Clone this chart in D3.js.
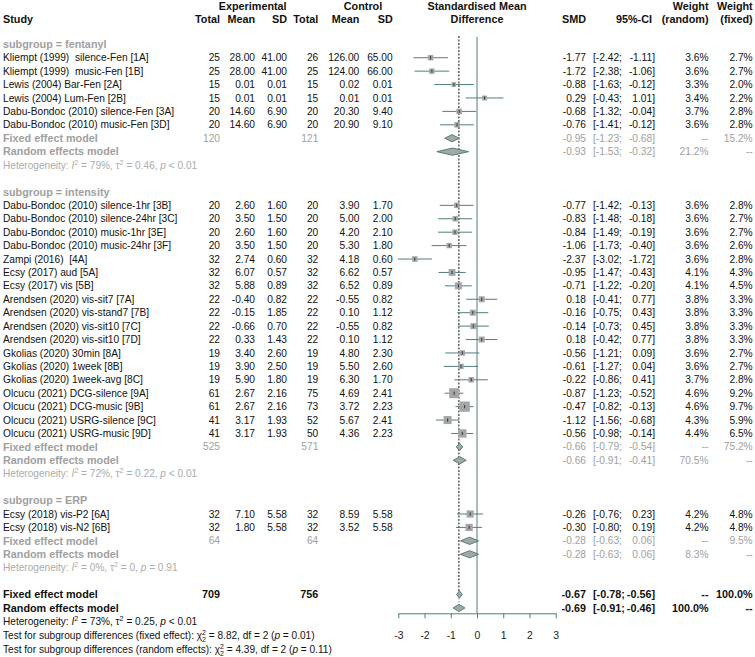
<!DOCTYPE html>
<html><head><meta charset="utf-8">
<script src="https://cdn.jsdelivr.net/npm/d3@7"></script>
<style>body{margin:0;background:#fff} svg{display:block} text{font-family:"Liberation Sans",Arial,sans-serif}</style>
</head><body><svg id="c" width="755" height="657"></svg>
<script>
// ---------------- DATA ----------------
const groups = ["fentanyl", "intensity", "ERP"];
const studies = [
  "Kliempt (1999)  silence-Fen [1A]", "Kliempt (1999)  music-Fen [1B]", "Lewis (2004) Bar-Fen [2A]",
  "Lewis (2004) Lum-Fen [2B]", "Dabu-Bondoc (2010) silence-Fen [3A]", "Dabu-Bondoc (2010) music-Fen [3D]",
  "Dabu-Bondoc (2010) silence-1hr [3B]", "Dabu-Bondoc (2010) silence-24hr [3C]", "Dabu-Bondoc (2010) music-1hr [3E]",
  "Dabu-Bondoc (2010) music-24hr [3F]", "Zampi (2016)  [4A]", "Ecsy (2017) aud [5A]", "Ecsy (2017) vis [5B]",
  "Arendsen (2020) vis-sit7 [7A]", "Arendsen (2020) vis-stand7 [7B]", "Arendsen (2020) vis-sit10 [7C]",
  "Arendsen (2020) vis-sit10 [7D]", "Gkolias (2020) 30min [8A]", "Gkolias (2020) 1week [8B]",
  "Gkolias (2020) 1week-avg [8C]", "Olcucu (2021) DCG-silence [9A]", "Olcucu (2021) DCG-music [9B]",
  "Olcucu (2021) USRG-silence [9C]", "Olcucu (2021) USRG-music [9D]",
  "Ecsy (2018) vis-P2 [6A]", "Ecsy (2018) vis-N2 [6B]"
];
const studyGroup = [0,0,0,0,0,0, 1,1,1,1,1,1,1,1,1,1,1,1,1,1,1,1,1,1, 2,2];
const expTotal = [25,25,15,15,20,20, 20,20,20,20,32,32,32,22,22,22,22,19,19,19,61,61,41,41, 32,32];
const expMean  = [28,28,0.01,0.01,14.6,14.6, 2.6,3.5,2.6,3.5,2.74,6.07,5.88,-0.40,-0.15,-0.66,0.33,3.4,3.9,5.9,2.67,2.67,3.17,3.17, 7.10,1.80];
const expSD    = [41,41,0.01,0.01,6.9,6.9, 1.6,1.5,1.6,1.5,0.60,0.57,0.89,0.82,1.85,0.70,1.43,2.6,2.5,1.8,2.16,2.16,1.93,1.93, 5.58,5.58];
const ctlTotal = [26,25,15,15,20,20, 20,20,20,20,32,32,32,22,22,22,22,19,19,19,75,73,52,50, 32,32];
const ctlMean  = [126,124,0.02,0.01,20.3,20.9, 3.9,5.0,4.2,5.3,4.18,6.62,6.52,-0.55,0.10,-0.55,0.10,4.8,5.5,6.3,4.69,3.72,5.67,4.36, 8.59,3.52];
const ctlSD    = [65,66,0.01,0.01,9.4,9.1, 1.7,2.0,2.1,1.8,0.60,0.57,0.89,0.82,1.12,0.82,1.12,2.3,2.6,1.7,2.41,2.23,2.41,2.23, 5.58,5.58];
const smd      = [-1.77,-1.72,-0.88,0.29,-0.68,-0.76, -0.77,-0.83,-0.84,-1.06,-2.37,-0.95,-0.71,0.18,-0.16,-0.14,0.18,-0.56,-0.61,-0.22,-0.87,-0.47,-1.12,-0.56, -0.26,-0.30];
const ciLow    = [-2.42,-2.38,-1.63,-0.43,-1.32,-1.41, -1.42,-1.48,-1.49,-1.73,-3.02,-1.47,-1.22,-0.41,-0.75,-0.73,-0.42,-1.21,-1.27,-0.86,-1.23,-0.82,-1.56,-0.98, -0.76,-0.80];
const ciHigh   = [-1.11,-1.06,-0.12,1.01,-0.04,-0.12, -0.13,-0.18,-0.19,-0.40,-1.72,-0.43,-0.20,0.77,0.43,0.45,0.77,0.09,0.04,0.41,-0.52,-0.13,-0.68,-0.14, 0.23,0.19];
const wRandom  = [3.6,3.6,3.3,3.4,3.7,3.6, 3.6,3.6,3.6,3.6,3.6,4.1,4.1,3.8,3.8,3.8,3.8,3.6,3.6,3.7,4.6,4.6,4.3,4.4, 4.2,4.2];
const wFixed   = [2.7,2.7,2.0,2.2,2.8,2.8, 2.8,2.7,2.7,2.6,2.8,4.3,4.5,3.3,3.3,3.3,3.3,2.7,2.7,2.8,9.2,9.7,5.9,6.5, 4.8,4.8];

// subgroup summaries
const grpExpTotal = [120, 525, 64];
const grpCtlTotal = [121, 571, 64];
const grpFixed    = [-0.95, -0.66, -0.28];
const grpFixedLo  = [-1.23, -0.79, -0.63];
const grpFixedHi  = [-0.68, -0.54, 0.06];
const grpFixedW   = [15.2, 75.2, 9.5];
const grpRandom   = [-0.93, -0.66, -0.28];
const grpRandomLo = [-1.53, -0.91, -0.63];
const grpRandomHi = [-0.32, -0.41, 0.06];
const grpRandomW  = [21.2, 70.5, 8.3];
const grpI2   = ["79%", "72%", "0%"];
const grpTau2 = ["0.46", "0.22", "0"];
const grpP    = ["< 0.01", "< 0.01", "= 0.91"];

// overall
const allExpTotal = 709, allCtlTotal = 756;
const allFixed = [-0.67, -0.78, -0.56];
const allRandom = [-0.69, -0.91, -0.46];
const allI2 = "73%", allTau2 = "0.25", allP = "< 0.01";
const testFixed = ["8.82", "2", "0.01"];
const testRandom = ["4.39", "2", "0.11"];
const axisTicks = [-3, -2, -1, 0, 1, 2, 3];

// ---------------- LAYOUT ----------------
const svg = d3.select("#c");
const f2 = d3.format(".2f");
const fmt = v => f2(v).replace("−", "-");
const pct = v => d3.format(".1f")(v) + "%";
const GREY = "#a0a0a0", HGREY = "#ababab", LINE = "#4f7f7c", BOX = "#a6a6a6";
const FS = 10.2, FSB = 10.8, FSH = 10.1;

const x = d3.scaleLinear().domain([-3, 3]).range([398.3, 555.7]);
const yRow = d3.scaleLinear().domain([0, 1]).range([44.3, 44.3 + 13.42]);

const col = {expT:220, expM:255, expS:287, ctlT:318.3, ctlM:359.3, ctlS:392.7, smd:586, ciL:593, ciR:655, wR:708.5, wF:752.7};

function txt(xp, yp, s, o = {}) {
  return svg.append("text").attr("x", xp).attr("y", yp).attr("dy", "0.35em")
    .attr("text-anchor", o.anchor || "start")
    .attr("font-size", o.size || (o.bold ? FSB : FS))
    .attr("font-weight", o.bold ? "bold" : "normal")
    .attr("fill", o.fill || "#111")
    .attr("xml:space", "preserve")
    .text(s);
}

// headers
txt(3, 19.3, "Study", {bold:true});
txt(252.7, 6, "Experimental", {bold:true, anchor:"middle"});
txt(363, 6, "Control", {bold:true, anchor:"middle"});
[["Total",col.expT],["Mean",col.expM],["SD",col.expS],["Total",col.ctlT],["Mean",col.ctlM],["SD",col.ctlS],["SMD",col.smd],["95%-CI",652]]
  .forEach(([s,xp]) => txt(xp, 19.3, s, {bold:true, anchor:"end"}));
txt(477, 6, "Standardised Mean", {bold:true, anchor:"middle"});
txt(477, 19.3, "Difference", {bold:true, anchor:"middle"});
txt(col.wR, 6, "Weight", {bold:true, anchor:"end"});
txt(col.wR, 19.3, "(random)", {bold:true, anchor:"end"});
txt(col.wF, 6, "Weight", {bold:true, anchor:"end"});
txt(col.wF, 19.3, "(fixed)", {bold:true, anchor:"end"});

function ciText(yp, est, lo, hi, o) {
  txt(col.smd, yp, fmt(est), Object.assign({anchor:"end"}, o));
  txt(col.ciL, yp, "[" + fmt(lo) + ";", Object.assign({anchor:"start"}, o));
  txt(col.ciR, yp, fmt(hi) + "]", Object.assign({anchor:"end"}, o));
}

function hetText(yp, i2, tau2, p, fill) {
  const t = svg.append("text").attr("x", 3).attr("y", yp).attr("dy", "0.35em")
    .attr("font-size", FSH).attr("fill", fill).attr("xml:space", "preserve");
  t.append("tspan").text("Heterogeneity: ");
  t.append("tspan").attr("font-style", "italic").text("I");
  t.append("tspan").attr("font-size", 7.2).attr("dy", -4).text("2");
  t.append("tspan").attr("dy", 4).text(" = " + i2 + ", τ");
  t.append("tspan").attr("font-size", 7.2).attr("dy", -4).text("2");
  t.append("tspan").attr("dy", 4).text(" = " + tau2 + ", ");
  t.append("tspan").attr("font-style", "italic").text("p");
  t.append("tspan").text(" " + p);
}

function diamond(yp, est, lo, hi) {
  const h = 3.6;
  svg.append("path")
    .attr("d", `M${x(lo)},${yp}L${x(est)},${yp-h}L${x(hi)},${yp}L${x(est)},${yp+h}Z`)
    .attr("fill", BOX).attr("stroke", LINE).attr("stroke-width", 1);
}

// reference lines
svg.append("line").attr("x1", x(0)).attr("x2", x(0)).attr("y1", 37).attr("y2", 613.3)
  .attr("stroke", LINE).attr("stroke-width", 1);
svg.append("line").attr("x1", x(allRandom[0])).attr("x2", x(allRandom[0])).attr("y1", 36).attr("y2", 591)
  .attr("stroke", "#111").attr("stroke-width", 1).attr("stroke-dasharray", "2,1.5");
svg.append("line").attr("x1", x(allRandom[0])).attr("x2", x(allRandom[0])).attr("y1", 598).attr("y2", 606)
  .attr("stroke", "#999").attr("stroke-width", 1).attr("stroke-dasharray", "1.5,1.5");

// rows
let r = 0;
groups.forEach((g, gi) => {
  txt(3, yRow(r), "subgroup = " + g, {bold:true, fill:GREY});
  r++;
  studies.forEach((s, i) => {
    if (studyGroup[i] !== gi) return;
    const yp = yRow(r);
    txt(3, yp, s);
    txt(col.expT, yp, String(expTotal[i]), {anchor:"end"});
    txt(col.expM, yp, fmt(expMean[i]), {anchor:"end"});
    txt(col.expS, yp, fmt(expSD[i]), {anchor:"end"});
    txt(col.ctlT, yp, String(ctlTotal[i]), {anchor:"end"});
    txt(col.ctlM, yp, fmt(ctlMean[i]), {anchor:"end"});
    txt(col.ctlS, yp, fmt(ctlSD[i]), {anchor:"end"});
    ciText(yp, smd[i], ciLow[i], ciHigh[i], {});
    txt(col.wR, yp, pct(wRandom[i]), {anchor:"end"});
    txt(col.wF, yp, pct(wFixed[i]), {anchor:"end"});
    // CI line
    svg.append("line").attr("x1", x(ciLow[i])).attr("x2", x(ciHigh[i])).attr("y1", yp).attr("y2", yp)
      .attr("stroke", LINE).attr("stroke-width", 1);
    const side = 3.3 * Math.sqrt(wFixed[i]);
    svg.append("rect").attr("x", x(smd[i]) - side/2).attr("y", yp - side/2)
      .attr("width", side).attr("height", side).attr("fill", BOX);
    svg.append("line").attr("x1", x(smd[i])).attr("x2", x(smd[i])).attr("y1", yp - 1.6).attr("y2", yp + 1.6)
      .attr("stroke", "#333").attr("stroke-width", 1);
    r++;
  });
  // fixed
  let yp = yRow(r);
  txt(3, yp, "Fixed effect model", {bold:true, fill:GREY});
  txt(col.expT, yp, String(grpExpTotal[gi]), {anchor:"end", fill:GREY});
  txt(col.ctlT, yp, String(grpCtlTotal[gi]), {anchor:"end", fill:GREY});
  ciText(yp, grpFixed[gi], grpFixedLo[gi], grpFixedHi[gi], {fill:GREY});
  txt(col.wR, yp, "--", {anchor:"end", fill:GREY});
  txt(col.wF, yp, pct(grpFixedW[gi]), {anchor:"end", fill:GREY});
  diamond(yp, grpFixed[gi], grpFixedLo[gi], grpFixedHi[gi]);
  r++;
  yp = yRow(r);
  txt(3, yp, "Random effects model", {bold:true, fill:GREY});
  ciText(yp, grpRandom[gi], grpRandomLo[gi], grpRandomHi[gi], {fill:GREY});
  txt(col.wR, yp, pct(grpRandomW[gi]), {anchor:"end", fill:GREY});
  txt(col.wF, yp, "--", {anchor:"end", fill:GREY});
  diamond(yp, grpRandom[gi], grpRandomLo[gi], grpRandomHi[gi]);
  r++;
  hetText(yRow(r), grpI2[gi], grpTau2[gi], grpP[gi], HGREY);
  r += 2;
});

// overall
let yp = yRow(r);
txt(3, yp, "Fixed effect model", {bold:true});
txt(col.expT, yp, String(allExpTotal), {anchor:"end", bold:true});
txt(col.ctlT, yp, String(allCtlTotal), {anchor:"end", bold:true});
ciText(yp, allFixed[0], allFixed[1], allFixed[2], {bold:true});
txt(col.wR, yp, "--", {anchor:"end", bold:true});
txt(col.wF, yp, "100.0%", {anchor:"end", bold:true});
diamond(yp, allFixed[0], allFixed[1], allFixed[2]);
r++;
yp = yRow(r);
txt(3, yp, "Random effects model", {bold:true});
ciText(yp, allRandom[0], allRandom[1], allRandom[2], {bold:true});
txt(col.wR, yp, "100.0%", {anchor:"end", bold:true});
txt(col.wF, yp, "--", {anchor:"end", bold:true});
diamond(yp, allRandom[0], allRandom[1], allRandom[2]);
r++;
hetText(yRow(r), allI2, allTau2, allP, "#111");

function testText(yp, label, vals) {
  const t = svg.append("text").attr("x", 3).attr("y", yp).attr("dy", "0.35em")
    .attr("font-size", FSH).attr("fill", "#111").attr("xml:space", "preserve");
  t.append("tspan").text("Test for subgroup differences (" + label + "): χ");
  t.append("tspan").attr("font-size", 7).attr("dy", -4).text("2");
  t.append("tspan").attr("font-size", 7).attr("dx", -3.9).attr("dy", 6.5).text(vals[1]);
  t.append("tspan").attr("dy", -2.5).text(" = " + vals[0] + ", df = " + vals[1] + " (");
  t.append("tspan").attr("font-style", "italic").text("p");
  t.append("tspan").text(" = " + vals[2] + ")");
}
testText(635.8, "fixed effect", testFixed);
testText(649.8, "random effects", testRandom);

// axis
const ax = svg.append("g").attr("transform", "translate(0,613.3)")
  .call(d3.axisBottom(x).tickValues(axisTicks).tickSize(5).tickSizeOuter(0).tickPadding(13).tickFormat(d => String(d)));
ax.select(".domain").attr("stroke", LINE);
ax.selectAll(".tick line").attr("stroke", LINE);
ax.selectAll(".tick text").attr("font-size", 10.4).attr("fill", "#222")
  .attr("font-family", "'Liberation Sans', Arial, sans-serif");
</script>
</body></html>
